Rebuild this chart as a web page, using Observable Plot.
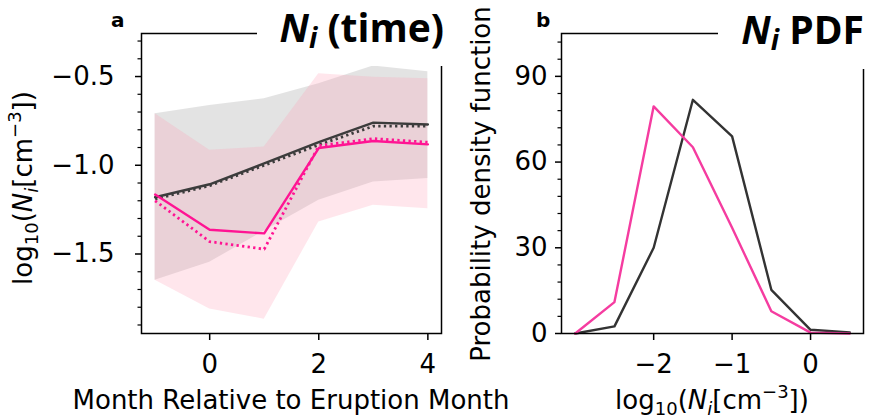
<!DOCTYPE html>
<html>
<head>
<meta charset="utf-8">
<script src="https://cdn.jsdelivr.net/npm/d3@7"></script>
<script src="https://cdn.jsdelivr.net/npm/@observablehq/plot@0.6"></script>
<style>
  body { margin: 0; background: #fff; }
  #wrap { position: relative; width: 871px; height: 420px; overflow: hidden; background: #fff; }
  #wrap > svg { position: absolute; top: 0; }
</style>
</head>
<body>
<div id="wrap"></div>
<script>
// ---------- Panel a data ----------
const months = [-1, 0, 1, 2, 3, 4];
const graySolid  = [-1.18, -1.107, -0.99, -0.87, -0.76, -0.77];
const grayDotted = [-1.19, -1.115, -1.0, -0.885, -0.78, -0.78];
const pinkSolid  = [-1.165, -1.363, -1.384, -0.903, -0.863, -0.882];
const pinkDotted = [-1.2, -1.43, -1.473, -0.89, -0.85, -0.87];
const grayLow  = [-1.648, -1.547, -1.37, -1.197, -1.094, -1.075];
const grayHigh = [-0.71, -0.663, -0.625, -0.54, -0.44, -0.473];
const pinkLow  = [-1.648, -1.81, -1.867, -1.32, -1.226, -1.245];
const pinkHigh = [-0.71, -0.915, -0.897, -0.485, -0.504, -0.513];
const xTicksA = [0, 2, 4];
const yTicksA = [-1.5, -1.0, -0.5];
const yMinorA = [-1.9, -1.8, -1.7, -1.6, -1.4, -1.3, -1.2, -1.1, -0.9, -0.8, -0.7, -0.6, -0.4, -0.3];

// ---------- Panel b data ----------
const bins = [-3, -2.5, -2, -1.5, -1, -0.5, 0, 0.5];
const pdfGray = [0, 2.5, 30, 81.8, 69, 15.3, 1.3, 0.4];
const pdfPink = [0, 11, 79.5, 65.2, 37, 7.8, 0.3, 0];
const xTicksB = [-2, -1, 0];
const yTicksB = [0, 30, 60, 90];
const yMinorB = [6, 12, 18, 24, 36, 42, 48, 54, 66, 72, 78, 84, 96, 102];

const minus = s => String(s).replace("-", "\u2212");
const FONT = "DejaVu Sans";

const tableA = months.map((m, i) => ({
  m, gs: graySolid[i], gd: grayDotted[i], ps: pinkSolid[i], pd: pinkDotted[i],
  gl: grayLow[i], gh: grayHigh[i], pl: pinkLow[i], ph: pinkHigh[i]
}));
const tableB = bins.map((b, i) => ({ b, g: pdfGray[i], p: pdfPink[i] }));

const GRAY = "#3c3c3c";
const PINK = "#ff1493";

const plotA = Plot.plot({
  width: 450, height: 420,
  marginLeft: 141, marginRight: 9, marginTop: 33, marginBottom: 87,
  style: { fontFamily: FONT, background: "transparent", color: "#000" },
  x: { domain: [-1.25, 4.25] },
  y: { domain: [-1.948, -0.2575] },
  marks: [
    Plot.areaY(tableA, { x: "m", y1: "gl", y2: "gh", fill: "#808080", fillOpacity: 0.22 }),
    Plot.areaY(tableA, { x: "m", y1: "pl", y2: "ph", fill: "#ff9db5", fillOpacity: 0.25 }),
    Plot.line(tableA, { x: "m", y: "gs", stroke: GRAY, strokeWidth: 2.4 }),
    Plot.line(tableA, { x: "m", y: "gd", stroke: GRAY, strokeWidth: 2.8, strokeDasharray: "2.3,3.3", strokeLinecap: "butt" }),
    Plot.line(tableA, { x: "m", y: "ps", stroke: PINK, strokeWidth: 2.4 }),
    Plot.line(tableA, { x: "m", y: "pd", stroke: PINK, strokeWidth: 2.8, strokeDasharray: "2.3,3.3", strokeLinecap: "butt" }),
    Plot.axisX(xTicksA, { tickSize: 7, tickPadding: 14, fontSize: 26, label: null, tickFormat: d => minus(d), strokeWidth: 1.5 }),
    Plot.axisY(yTicksA, { tickSize: 6, tickPadding: 21, fontSize: 26, label: null, tickFormat: d => minus(d.toFixed(1)), strokeWidth: 1.5 }),
    Plot.axisY(yMinorA, { tickSize: 3.5, text: null, label: null, strokeWidth: 1.2 }),
    Plot.frame({ stroke: "#000", strokeWidth: 1.5 })
  ]
});
plotA.style.left = "0px";

const plotB = Plot.plot({
  width: 421, height: 420,
  marginLeft: 111, marginRight: 8, marginTop: 33, marginBottom: 87,
  style: { fontFamily: FONT, background: "transparent", color: "#000" },
  x: { domain: [-3.175, 0.675] },
  y: { domain: [0, 105] },
  marks: [
    Plot.line(tableB, { x: "b", y: "g", stroke: "#333333", strokeWidth: 2.4 }),
    Plot.line(tableB, { x: "b", y: "p", stroke: "#f53ca0", strokeWidth: 2.4 }),
    Plot.axisX(xTicksB, { tickSize: 7, tickPadding: 14, fontSize: 26, label: null, tickFormat: d => minus(d), strokeWidth: 1.5 }),
    Plot.axisY(yTicksB, { tickSize: 6, tickPadding: 8, fontSize: 26, label: null, tickFormat: d => minus(d), strokeWidth: 1.5 }),
    Plot.axisY(yMinorB, { tickSize: 3.5, text: null, label: null, strokeWidth: 1.2 }),
    Plot.frame({ stroke: "#000", strokeWidth: 1.5 })
  ]
});
plotB.style.left = "450px";

const wrap = document.getElementById("wrap");
wrap.appendChild(plotA);
wrap.appendChild(plotB);

// ---------- Text overlay (titles, panel letters, axis labels) ----------
const ns = "http://www.w3.org/2000/svg";
const over = document.createElementNS(ns, "svg");
over.setAttribute("width", 871);
over.setAttribute("height", 420);
over.style.left = "0px";
over.style.pointerEvents = "none";
wrap.appendChild(over);

function rect(x, y, w, h) {
  const r = document.createElementNS(ns, "rect");
  r.setAttribute("x", x); r.setAttribute("y", y);
  r.setAttribute("width", w); r.setAttribute("height", h);
  r.setAttribute("fill", "#fff");
  over.appendChild(r);
}
function text(x, y, parts, o) {
  const t = document.createElementNS(ns, "text");
  t.setAttribute("x", x); t.setAttribute("y", y);
  t.setAttribute("font-family", o.family || FONT);
  t.setAttribute("font-size", o.size);
  t.setAttribute("fill", "#000");
  if (o.weight) t.setAttribute("font-weight", o.weight);
  t.setAttribute("text-anchor", o.anchor || "start");
  if (o.rotate) t.setAttribute("transform", `rotate(-90 ${x} ${y})`);
  let shift = 0;
  for (const p of parts) {
    const s = document.createElementNS(ns, "tspan");
    s.textContent = p.t;
    const target = p.shift || 0;
    if (target !== shift) { s.setAttribute("dy", target - shift); shift = target; }
    if (p.size) s.setAttribute("font-size", p.size);
    if (p.italic) s.setAttribute("font-style", "italic");
    t.appendChild(s);
  }
  over.appendChild(t);
}

// white boxes behind the titles (cover the spines like a matplotlib bbox)
rect(257, 10, 192, 56);
rect(718, 10, 153, 59);

text(111, 26.5, [{ t: "a" }], { size: 20, weight: "bold" });
text(536, 26.5, [{ t: "b" }], { size: 20, weight: "bold" });

text(444, 42, [
  { t: "N", italic: true },
  { t: "i", italic: true, size: 28, shift: 6 },
  { t: " (time)", shift: 0 }
], { size: 39, weight: "bold", anchor: "end", family: "Open Sans" });
text(864, 44, [
  { t: "N", italic: true },
  { t: "i", italic: true, size: 28, shift: 6 },
  { t: " PDF", shift: 0 }
], { size: 39, weight: "bold", anchor: "end", family: "Open Sans" });

const logLabel = [
  { t: "log" },
  { t: "10", size: 18, shift: 6 },
  { t: "(", shift: 0 },
  { t: "N", italic: true },
  { t: "i", italic: true, size: 18, shift: 6 },
  { t: "[cm", shift: 0 },
  { t: "\u22123", size: 18, shift: -11 },
  { t: "])", shift: 0 }
];
text(291, 409, [{ t: "Month Relative to Eruption Month" }], { size: 26, anchor: "middle" });
text(712, 409, logLabel, { size: 26, anchor: "middle" });
text(32, 188, logLabel, { size: 26, anchor: "middle", rotate: true });
text(490, 184, [{ t: "Probability density function" }], { size: 26, anchor: "middle", rotate: true });
</script>
</body>
</html>
